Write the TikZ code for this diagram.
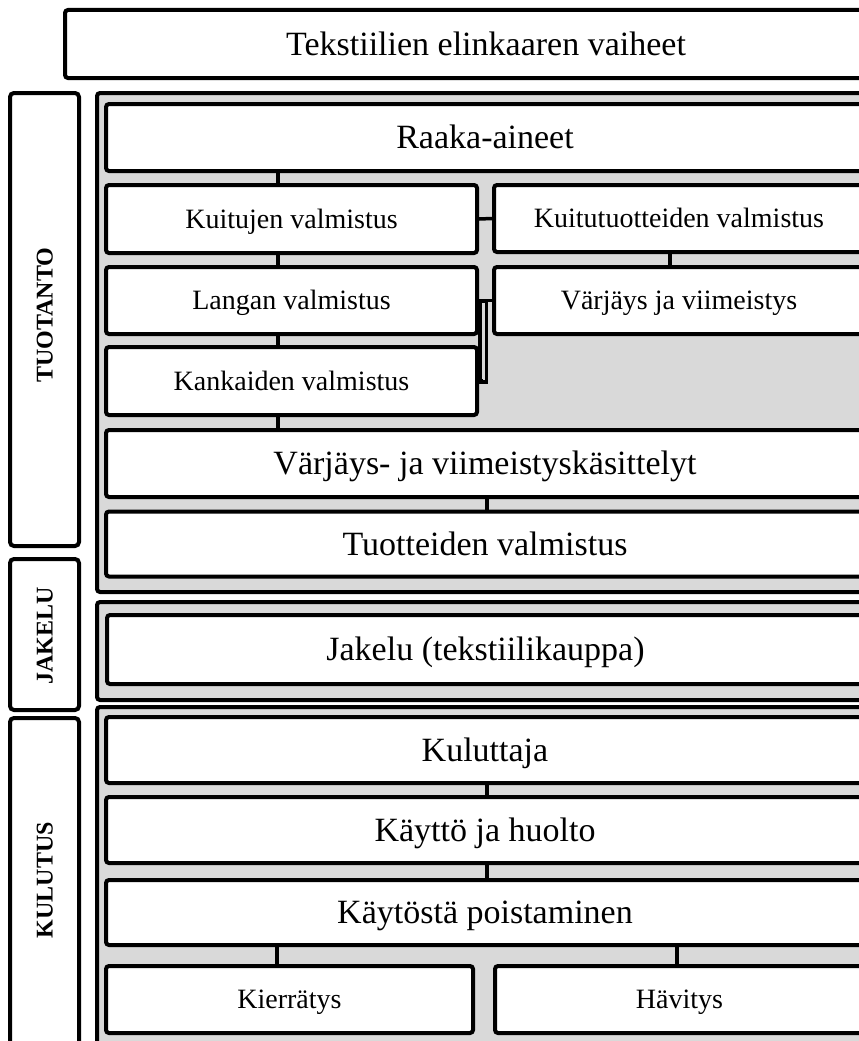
\documentclass[tikz,border=0pt]{standalone}
\usepackage{fontspec}
\setmainfont{Liberation Serif}
\usetikzlibrary{calc}
\definecolor{grp}{HTML}{D9D9D9}
\tikzset{
  grpbox/.style={draw, line width=4pt, fill=grp, rounded corners=3pt, inner sep=0pt},
  bigbox/.style={draw, line width=4pt, fill=white, rounded corners=3pt, inner sep=0pt,
    text height=22.5pt, text depth=0pt, font=\fontsize{34}{40}\selectfont},
  smallbox/.style={bigbox, text height=18.5pt, font=\fontsize{28}{32}\selectfont},
  sidebox/.style={draw, line width=4pt, fill=white, rounded corners=4pt, inner sep=0pt},
  sidelabel/.style={rotate=90, inner sep=0pt, text height=16pt, text depth=0pt, font=\fontsize{24}{28}\selectfont\bfseries},
  conn/.style={line width=3.5pt},
}
\begin{document}
\begin{tikzpicture}[x=1pt,y=-1pt]
\useasboundingbox (0,0) rectangle (859,1041);
\clip (0,0) rectangle (859,1041);
\fill[white] (0,0) rectangle (859,1041);

% title
\node[bigbox, minimum width=842pt, minimum height=68pt] (title) at (486,44) {Tekstiilien elinkaaren vaiheet};

% side labels
\node[sidebox, minimum width=69pt, minimum height=453pt] (tuo) at (44.5,319.5) {};
\node[sidelabel] (tuolab) at (44.5,315) {TUOTANTO};
\node[sidebox, minimum width=69pt, minimum height=151pt] (jak) at (44.5,634.5) {};
\node[sidelabel] (jaklab) at (44.5,636) {JAKELU};
\node[sidebox, minimum width=69pt, minimum height=380pt] (kul) at (44.5,908) {};
\node[sidelabel] (kullab) at (44.5,880) {KULUTUS};

% groups
\node[grpbox, minimum width=777pt, minimum height=499pt] (g1) at (485.5,342.5) {};
\node[grpbox, minimum width=777pt, minimum height=98pt] (g2) at (485.5,651) {};
\node[grpbox, minimum width=777pt, minimum height=393pt] (g3) at (485.5,903.5) {};

% connector x positions
\coordinate (cl) at (278,0);
\coordinate (cm) at (487,0);
\coordinate (cr) at (670,0);
\coordinate (cl2) at (277,0);
\coordinate (cr2) at (677,0);

% TUOTANTO boxes
\node[bigbox, minimum width=758pt, minimum height=67pt] (raaka) at (485,137.5) {Raaka-aineet};
\node[smallbox, minimum width=371pt, minimum height=68pt] (kuitu) at (291.5,219) {Kuitujen valmistus};
\node[smallbox, minimum width=370pt, minimum height=67pt] (kuitt) at (679,218.5) {Kuitutuotteiden valmistus};
\node[smallbox, minimum width=371pt, minimum height=67pt] (langan) at (291.5,300.5) {Langan valmistus};
\node[smallbox, minimum width=370pt, minimum height=67pt] (varj1) at (679,300.5) {Värjäys ja viimeistys};
\node[smallbox, minimum width=371pt, minimum height=68pt] (kank) at (291.5,381) {Kankaiden valmistus};
\node[bigbox, minimum width=758pt, minimum height=67pt] (varj2) at (485,463.5) {Värjäys- ja viimeistyskäsittelyt};
\node[bigbox, minimum width=758pt, minimum height=65pt] (tuot) at (485,544) {Tuotteiden valmistus};

% JAKELU
\node[bigbox, minimum width=757pt, minimum height=69pt] (jakelu) at (485.5,649.5) {Jakelu (tekstiilikauppa)};

% KULUTUS
\node[bigbox, minimum width=758pt, minimum height=66pt] (kulut) at (485,750) {Kuluttaja};
\node[bigbox, minimum width=758pt, minimum height=66pt] (kaytto) at (485,830) {Käyttö ja huolto};
\node[bigbox, minimum width=758pt, minimum height=65pt] (poist) at (485,912.5) {Käytöstä poistaminen};
\node[smallbox, minimum width=367pt, minimum height=67pt] (kierr) at (289.5,999.5) {Kierrätys};
\node[smallbox, minimum width=369pt, minimum height=67pt] (havit) at (679.5,999.5) {Hävitys};

% connectors
\draw[conn] (raaka.south -| cl) -- (kuitu.north -| cl);
\draw[conn] (kuitu.south -| cl) -- (langan.north -| cl);
\draw[conn] (langan.south -| cl) -- (kank.north -| cl);
\draw[conn] (kank.south -| cl) -- (varj2.north -| cl);
\draw[conn] (kuitu.east) -- (kuitt.west);
\draw[conn] (kuitt.south -| cr) -- (varj1.north -| cr);
\draw[conn] (langan.east) -- (varj1.west);
\coordinate (bt) at (483,299);
\coordinate (bb) at (483,384);
\draw[line width=10pt] (bt) -- (bb);
\draw[line width=3pt, grp] ($(bt)+(0,4)$) -- ($(bb)+(0,-4)$);
\draw[conn] (kank.east) -- (kank.east -| bb);
\draw[conn] (varj2.south -| cm) -- (tuot.north -| cm);
\draw[conn] (kulut.south -| cm) -- (kaytto.north -| cm);
\draw[conn] (kaytto.south -| cm) -- (poist.north -| cm);
\draw[conn] (poist.south -| cl2) -- (kierr.north -| cl2);
\draw[conn] (poist.south -| cr2) -- (havit.north -| cr2);
\end{tikzpicture}
\end{document}
